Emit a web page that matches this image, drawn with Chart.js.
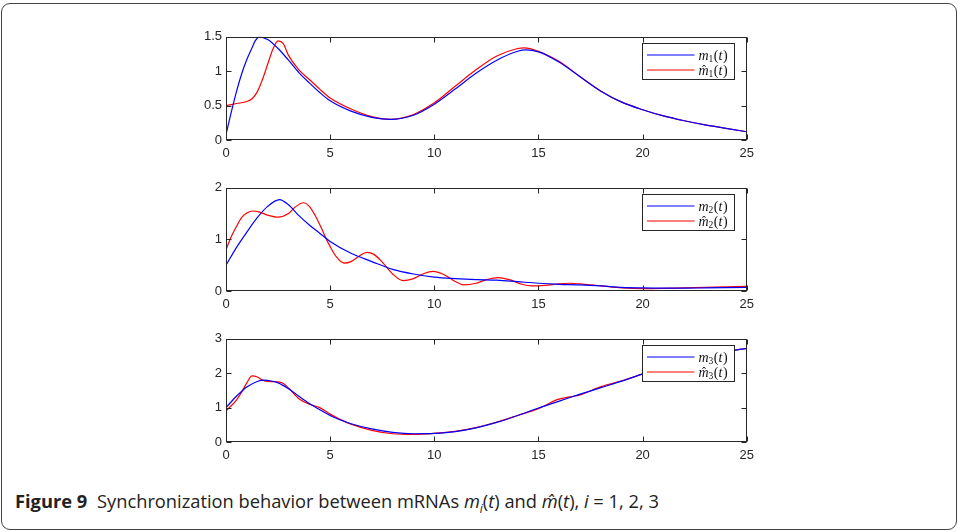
<!DOCTYPE html>
<html>
<head>
<meta charset="utf-8">
<script src="https://cdn.jsdelivr.net/npm/chart.js@4.4.1/dist/chart.umd.min.js"></script>
<style>
  html, body { margin: 0; padding: 0; background: #fff; }
  body { width: 958px; height: 532px; position: relative; overflow: hidden; }
  .frame { position: absolute; left: 1px; top: 3px; width: 956px; height: 527px; box-sizing: border-box;
           border: 1.3px solid #444; border-radius: 9px; }
  canvas { position: absolute; }
  .caption { position: absolute; left: 15px; top: 489px; font-family: "Open Sans", sans-serif; font-size: 18.3px;
             color: #222; white-space: nowrap; line-height: 24px; }
  .caption b { font-weight: 700; margin-right: 5px; }
</style>
</head>
<body>
<div class="frame"></div>
<canvas id="c1" width="580" height="140" style="left:180px; top:25px"></canvas>
<canvas id="c2" width="580" height="140" style="left:180px; top:176px"></canvas>
<canvas id="c3" width="580" height="140" style="left:180px; top:327px"></canvas>
<div class="caption"><b>Figure 9</b> Synchronization behavior between mRNAs <i>m<sub style="font-size:12px">i</sub></i>(<i>t</i>) and <i>m̂</i>(<i>t</i>), <i>i</i> = 1, 2, 3</div>
<script>
// plot 1
const t1 = [0, 0.25, 0.5, 0.75, 1, 1.25, 1.4, 1.6, 2, 2.5, 3, 3.5, 4, 4.5, 5, 6, 7, 7.9, 9, 10, 11, 12, 13, 14, 14.4, 15, 16, 17, 18, 19, 20, 21, 22, 23, 24, 25];
const m1 = [0.08, 0.4, 0.7, 0.96, 1.17, 1.34, 1.44, 1.5, 1.46, 1.33, 1.16, 0.98, 0.83, 0.69, 0.57, 0.42, 0.33, 0.3, 0.36, 0.52, 0.74, 0.97, 1.16, 1.29, 1.31, 1.28, 1.13, 0.92, 0.71, 0.55, 0.44, 0.35, 0.28, 0.22, 0.17, 0.12];
const t1h = [0, 0.5, 1, 1.25, 1.5, 1.75, 2, 2.25, 2.5, 2.75, 3, 3.5, 4, 4.5, 5, 6, 7, 7.9, 9, 10, 11, 12, 13, 14, 14.3, 15, 16, 17, 18, 19, 20, 21, 22, 23, 24, 25];
const m1h = [0.5, 0.53, 0.56, 0.6, 0.7, 0.88, 1.1, 1.32, 1.44, 1.4, 1.23, 1.02, 0.88, 0.74, 0.61, 0.45, 0.34, 0.3, 0.37, 0.54, 0.78, 1.02, 1.22, 1.33, 1.34, 1.29, 1.14, 0.92, 0.71, 0.55, 0.44, 0.35, 0.28, 0.22, 0.17, 0.12];

// plot 2
const t2 = [0, 0.5, 1, 1.5, 2, 2.57, 3, 3.5, 4, 4.5, 5, 6, 7, 8, 9, 10, 11, 12, 13, 14, 15, 16, 17, 18, 19, 20, 21, 22, 23, 24, 25];
const m2 = [0.5, 0.84, 1.14, 1.42, 1.64, 1.77, 1.67, 1.46, 1.28, 1.12, 0.96, 0.73, 0.57, 0.42, 0.33, 0.27, 0.24, 0.22, 0.21, 0.18, 0.15, 0.13, 0.12, 0.1, 0.07, 0.06, 0.055, 0.055, 0.06, 0.065, 0.07];
const t2h = [0, 0.25, 0.5, 0.75, 1, 1.3, 1.6, 2, 2.5, 3, 3.3, 3.72, 4, 4.3, 4.6, 4.8, 5, 5.3, 5.67, 6, 6.4, 6.76, 7.1, 7.5, 8, 8.5, 9, 9.5, 9.95, 10.4, 10.9, 11.4, 12, 12.5, 13.06, 13.6, 14.2, 14.7, 15.3, 16, 16.5, 17.2, 18, 19, 20, 21, 22, 23, 24, 25];
const m2h = [0.8, 1.05, 1.25, 1.42, 1.51, 1.55, 1.53, 1.47, 1.43, 1.5, 1.62, 1.71, 1.64, 1.45, 1.2, 1.02, 0.86, 0.66, 0.54, 0.57, 0.68, 0.75, 0.71, 0.56, 0.33, 0.2, 0.24, 0.34, 0.38, 0.33, 0.21, 0.12, 0.15, 0.22, 0.26, 0.22, 0.13, 0.1, 0.11, 0.14, 0.15, 0.13, 0.1, 0.06, 0.045, 0.05, 0.06, 0.07, 0.08, 0.09];

// plot 3
const t3 = [0, 0.5, 1, 1.5, 1.8, 2, 2.5, 3, 3.5, 4, 4.5, 5, 5.5, 6, 7, 8, 9, 10, 11, 12, 13, 14, 15, 16, 17, 18, 19, 20, 21, 22, 23, 24, 25];
const m3 = [1.0, 1.33, 1.6, 1.76, 1.8, 1.79, 1.72, 1.55, 1.33, 1.12, 0.94, 0.77, 0.64, 0.53, 0.38, 0.28, 0.24, 0.25, 0.3, 0.41, 0.57, 0.77, 0.99, 1.19, 1.39, 1.58, 1.77, 1.98, 2.19, 2.37, 2.52, 2.63, 2.72];
const t3h = [0, 0.5, 0.75, 1, 1.25, 1.5, 1.75, 2, 2.5, 2.75, 3, 3.5, 4, 4.5, 5, 5.5, 6, 7, 8, 9, 10, 11, 12, 13, 14, 15, 15.9, 16.5, 17, 18, 19, 20, 21, 22, 23, 24, 25];
const m3h = [0.9, 1.22, 1.45, 1.72, 1.92, 1.89, 1.8, 1.76, 1.75, 1.7, 1.57, 1.26, 1.1, 1.0, 0.81, 0.65, 0.52, 0.34, 0.24, 0.22, 0.25, 0.31, 0.42, 0.58, 0.77, 0.97, 1.23, 1.31, 1.37, 1.61, 1.78, 1.98, 2.2, 2.37, 2.52, 2.63, 2.72];

const xTicks = [0, 5, 10, 15, 20, 25];
const yTicks1 = [0, 0.5, 1, 1.5];
const yTicks2 = [0, 1, 2];
const yTicks3 = [0, 1, 2, 3];

function pts(ts, vs) {
  return ts.map((t, i) => ({ x: t, y: vs[i] }));
}

const axisColor = '#262626';

// draws the box, inward ticks and a legend inside the plot
const matlabAxes = {
  id: 'matlabAxes',
  afterDraw(chart, args, opts) {
    const ctx = chart.ctx;
    const a = chart.chartArea;
    const x = chart.scales.x, y = chart.scales.y;
    const L = Math.round(a.left) + 0.5, R = Math.round(a.right) - 0.5;
    const T = Math.round(a.top) + 0.5, B = Math.round(a.bottom) - 0.5;
    ctx.save();
    ctx.strokeStyle = axisColor;
    ctx.lineWidth = 1;
    ctx.strokeRect(L, T, R - L, B - T);
    ctx.beginPath();
    x.ticks.forEach(tk => {
      const px = Math.round(x.getPixelForValue(tk.value)) + 0.5;
      ctx.moveTo(px, B); ctx.lineTo(px, B - 5);
      ctx.moveTo(px, T); ctx.lineTo(px, T + 5);
    });
    y.ticks.forEach(tk => {
      const py = Math.round(y.getPixelForValue(tk.value)) + 0.5;
      ctx.moveTo(L, py); ctx.lineTo(L + 5, py);
      ctx.moveTo(R, py); ctx.lineTo(R - 5, py);
    });
    ctx.stroke();

    // legend box
    const bw = 92, bh = 36;
    const bx = Math.round(a.right) - 13 - bw + 0.5, by = Math.round(a.top) + 6 + 0.5;
    ctx.fillStyle = '#fff';
    ctx.fillRect(bx, by, bw, bh);
    ctx.strokeStyle = axisColor;
    ctx.strokeRect(bx, by, bw, bh);
    chart.data.datasets.forEach((ds, i) => {
      const ry = by + 11.5 + i * 15;
      ctx.strokeStyle = ds.borderColor;
      ctx.lineWidth = 1.2;
      ctx.beginPath();
      ctx.moveTo(bx + 4.5, ry); ctx.lineTo(bx + 52, ry);
      ctx.stroke();
      drawMath(ctx, bx + 56, ry + 4.5, opts.index, i === 1);
    });
    ctx.restore();
  }
};

function drawMath(ctx, x, base, sub, hat) {
  ctx.fillStyle = '#111';
  ctx.textBaseline = 'alphabetic';
  ctx.textAlign = 'left';
  ctx.font = 'italic 14px "Liberation Serif"';
  const mw = ctx.measureText('m').width;
  ctx.fillText('m', x, base);
  if (hat) {
    ctx.font = '12px "Liberation Serif"';
    ctx.textAlign = 'center';
    ctx.fillText('\u02C6', x + mw / 2 + 0.5, base - 1);
    ctx.textAlign = 'left';
  }
  let cx = x + mw;
  ctx.font = '9.5px "Liberation Serif"';
  ctx.fillText(String(sub), cx, base + 2);
  cx += ctx.measureText(String(sub)).width + 0.5;
  ctx.font = '14px "Liberation Serif"';
  ctx.fillText('(', cx, base);
  cx += ctx.measureText('(').width;
  ctx.font = 'italic 14px "Liberation Serif"';
  ctx.fillText('t', cx, base);
  cx += ctx.measureText('t').width + 0.5;
  ctx.font = '14px "Liberation Serif"';
  ctx.fillText(')', cx, base);
}

function makeChart(id, index, tA, vA, tB, vB, yMax, yTicks) {
  return new Chart(document.getElementById(id), {
    type: 'line',
    data: {
      datasets: [
        { data: pts(tA, vA), borderColor: '#0000ff', borderWidth: 1.2, pointRadius: 0, cubicInterpolationMode: 'monotone', fill: false },
        { data: pts(tB, vB), borderColor: '#ff0000', borderWidth: 1.2, pointRadius: 0, cubicInterpolationMode: 'monotone', fill: false }
      ]
    },
    options: {
      responsive: false,
      animation: false,
      devicePixelRatio: 1,
      layout: { padding: { top: 6, right: 13, bottom: 0, left: 0 } },
      plugins: { legend: { display: false }, tooltip: { enabled: false }, matlabAxes: { index: index } },
      scales: {
        x: {
          type: 'linear', min: 0, max: 25,
          grid: { display: false, drawTicks: false },
          border: { display: false },
          afterBuildTicks: s => { s.ticks = xTicks.map(v => ({ value: v })); },
          afterFit: s => { s.height = 25; },
          ticks: { padding: 6, color: axisColor, maxRotation: 0, font: { family: 'Liberation Sans', size: 13 }, callback: v => String(v) }
        },
        y: {
          min: 0, max: yMax,
          grid: { display: false, drawTicks: false },
          border: { display: false },
          afterBuildTicks: s => { s.ticks = yTicks.map(v => ({ value: v })); },
          afterFit: s => { s.width = 46; },
          ticks: { padding: 4, color: axisColor, font: { family: 'Liberation Sans', size: 13 }, callback: v => String(v) }
        }
      }
    },
    plugins: [matlabAxes]
  });
}

makeChart('c1', 1, t1, m1, t1h, m1h, 1.5, yTicks1);
makeChart('c2', 2, t2, m2, t2h, m2h, 2, yTicks2);
makeChart('c3', 3, t3, m3, t3h, m3h, 3, yTicks3);
</script>
</body>
</html>
